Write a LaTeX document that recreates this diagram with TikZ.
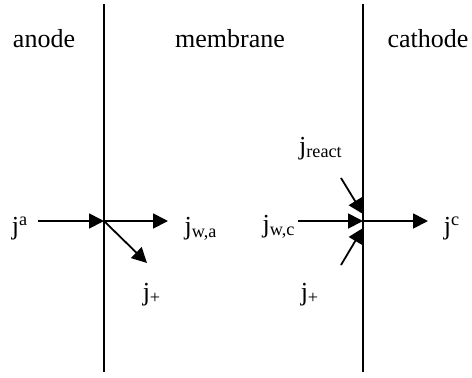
\documentclass[tikz,border=0pt]{standalone}
\usepackage{fontspec}
\setmainfont{Liberation Serif}
\usetikzlibrary{arrows.meta}
\tikzset{
  flux/.style={line width=0.9pt,-{Triangle[length=7.5pt,width=7.5pt]}},
  wall/.style={line width=1pt},
  lbl/.style={anchor=base,inner sep=0pt,font=\fontsize{13}{15}\selectfont},
}
\begin{document}
\begin{tikzpicture}[x=0.5pt,y=-0.5pt]
	\useasboundingbox (0,0) rectangle (472,377);
	% walls
	\coordinate (atop) at (104,4);
	\coordinate (abot) at (104,372);
	\coordinate (ctop) at (363,4);
	\coordinate (cbot) at (363,372);
	\draw[wall] (atop) -- (abot);
	\draw[wall] (ctop) -- (cbot);
	% regions
	\node[lbl] (anode) at (44,47) {anode};
	\node[lbl] (membrane) at (230,47) {membrane};
	\node[lbl] (cathode) at (428,47) {cathode};
	% anode side
	\coordinate (A) at (104,221);
	\coordinate (ain) at (38,221);
	\coordinate (awa) at (168,221);
	\coordinate (aplus) at (147,263);
	\node[lbl] (ja) at (20,234) {j\textsuperscript{a}};
	\node[lbl] (jwa) at (201,234) {j\textsubscript{w,a}};
	\node[lbl] (jpa) at (152,300) {j\textsubscript{+}};
	\draw[flux] (ain) -- (A);
	\draw[flux] (A) -- (awa);
	\draw[flux] (A) -- (aplus);
	% cathode side
	\coordinate (C) at (363,221);
	\coordinate (Cup) at (363,214);
	\coordinate (Cdn) at (363,228);
	\coordinate (cwc) at (298,221);
	\coordinate (creact) at (341,178);
	\coordinate (cplus) at (341,265);
	\coordinate (cout) at (428,221);
	\node[lbl] (jreact) at (321,154) {j\textsubscript{react}};
	\node[lbl] (jwc) at (279,232) {j\textsubscript{w,c}};
	\node[lbl] (jpc) at (310,300) {j\textsubscript{+}};
	\node[lbl] (jc) at (452,234) {j\textsuperscript{c}};
	\draw[flux] (cwc) -- (C);
	\draw[flux] (creact) -- (Cup);
	\draw[flux] (cplus) -- (Cdn);
	\draw[flux] (C) -- (cout);
\end{tikzpicture}
\end{document}
